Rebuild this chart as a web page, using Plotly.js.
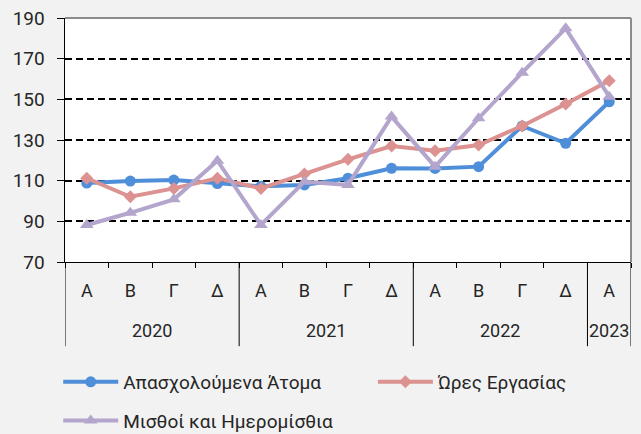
<!DOCTYPE html>
<html>
<head>
<meta charset="utf-8">
<script src="https://cdn.plot.ly/plotly-3.0.1.min.js"></script>
<style>html,body{margin:0;padding:0;background:#f2f2f2;}#chart{width:641px;height:434px;}</style>
</head>
<body>
<div id="chart"></div>
<script>
const years = ["2020","2020","2020","2020","2021","2021","2021","2021","2022","2022","2022","2022","2023"];
const quarters = ["Α","Β","Γ","Δ","Α","Β","Γ","Δ","Α","Β","Γ","Δ","Α"];
const employed = [108.8, 109.8, 110.3, 108.6, 107.2, 107.9, 111.2, 116.1, 116.0, 116.9, 136.9, 128.4, 148.8];
const hours = [111.2, 102.1, 106.2, 111.2, 106.2, 113.3, 120.5, 127.0, 124.7, 127.5, 136.9, 147.7, 159.2];
const wages = [88.2, 94.2, 100.8, 119.8, 88.2, 109.5, 107.9, 141.5, 116.9, 140.7, 163.1, 184.9, 151.3];
const seriesNames = ["Απασχολούμενα Άτομα", "Ώρες Εργασίας", "Μισθοί και Ημερομίσθια"];
const yTicks = [70, 90, 110, 130, 150, 170, 190];

const FONT = "Roboto, 'Noto Sans', sans-serif";
const TXT = "#262626";
const categories = years.map((y, i) => y + " " + quarters[i]);

// year groups: start/end indices
const groups = [];
years.forEach((y, i) => {
  if (!groups.length || groups[groups.length - 1].year !== y) groups.push({year: y, start: i, end: i});
  else groups[groups.length - 1].end = i;
});

const traces = [
  {x: categories, y: employed, name: seriesNames[0], legend: "legend", legendgroup: "a",
   type: "scatter", mode: "lines+markers",
   line: {color: "#4f8fd9", width: 4}, marker: {symbol: "circle", size: 11, color: "#4f8fd9"}},
  {x: categories, y: hours, name: seriesNames[1], legend: "legend2", legendgroup: "b",
   type: "scatter", mode: "lines+markers",
   line: {color: "#db9290", width: 4}, marker: {symbol: "diamond", size: 10, color: "#db9290"}},
  {x: categories, y: wages, name: seriesNames[2], legend: "legend", legendgroup: "c",
   type: "scatter", mode: "lines+markers",
   line: {color: "#b4a5cd", width: 4}, marker: {symbol: "triangle-up", size: 12, color: "#b4a5cd"}}
];

const shapes = [
  {type: "line", xref: "paper", yref: "paper", x0: 0, x1: 1, y0: 1, y1: 1, line: {color: "#8c8c8c", width: 2}},
  {type: "line", xref: "paper", yref: "paper", x0: 1, x1: 1, y0: 0, y1: 1, line: {color: "#8c8c8c", width: 2}}
];
const annotations = [];
groups.forEach((g, k) => {
  if (k === 0) shapes.push({type: "line", xref: "x", yref: "paper", x0: g.start - 0.5, x1: g.start - 0.5,
    y0: 0, y1: -0.345, line: {color: "#000", width: 1}});
  shapes.push({type: "line", xref: "x", yref: "paper", x0: g.end + 0.5, x1: g.end + 0.5,
    y0: 0, y1: -0.345, line: {color: "#000", width: 1}});
  annotations.push({xref: "x", yref: "paper", x: (g.start + g.end) / 2, y: -0.279,
    text: g.year, showarrow: false, yanchor: "middle", xanchor: "center",
    font: {family: FONT, size: 18, color: TXT}});
});

const legendCommon = {orientation: "v", yref: "paper", y: -0.414, yanchor: "top", xanchor: "left",
  bgcolor: "rgba(0,0,0,0)", font: {family: FONT, size: 19, color: TXT},
  itemwidth: 55, tracegroupgap: 11, traceorder: "grouped"};

const layout = {
  width: 641, height: 434,
  paper_bgcolor: "#f2f2f2", plot_bgcolor: "#ffffff",
  margin: {l: 65, r: 10, t: 18, b: 172, autoexpand: false},
  font: {family: FONT, size: 18, color: TXT},
  showlegend: true,
  legend: Object.assign({}, legendCommon, {x: -0.012}),
  legend2: Object.assign({}, legendCommon, {x: 0.544}),
  xaxis: {type: "category", range: [-0.5, categories.length - 0.5], automargin: false,
          tickmode: "array", tickvals: categories, ticktext: quarters,
          showline: true, linecolor: "#000", linewidth: 1,
          ticks: "outside", tickson: "boundaries", ticklen: 5, tickcolor: "#000",
          ticklabelstandoff: 12,
          showgrid: false, tickfont: {family: FONT, size: 18, color: TXT}},
  yaxis: {range: [70, 190], tickvals: yTicks, automargin: false,
          showline: true, linecolor: "#000", linewidth: 1.5,
          ticks: "outside", ticklen: 7, tickcolor: "#000", ticklabelstandoff: 8,
          showgrid: true, gridcolor: "#000", gridwidth: 2, griddash: "7px,4px",
          zeroline: false, tickfont: {family: FONT, size: 19, color: TXT}},
  shapes: shapes,
  annotations: annotations
};

Plotly.newPlot("chart", traces, layout, {displayModeBar: false, staticPlot: true});
</script>
</body>
</html>
